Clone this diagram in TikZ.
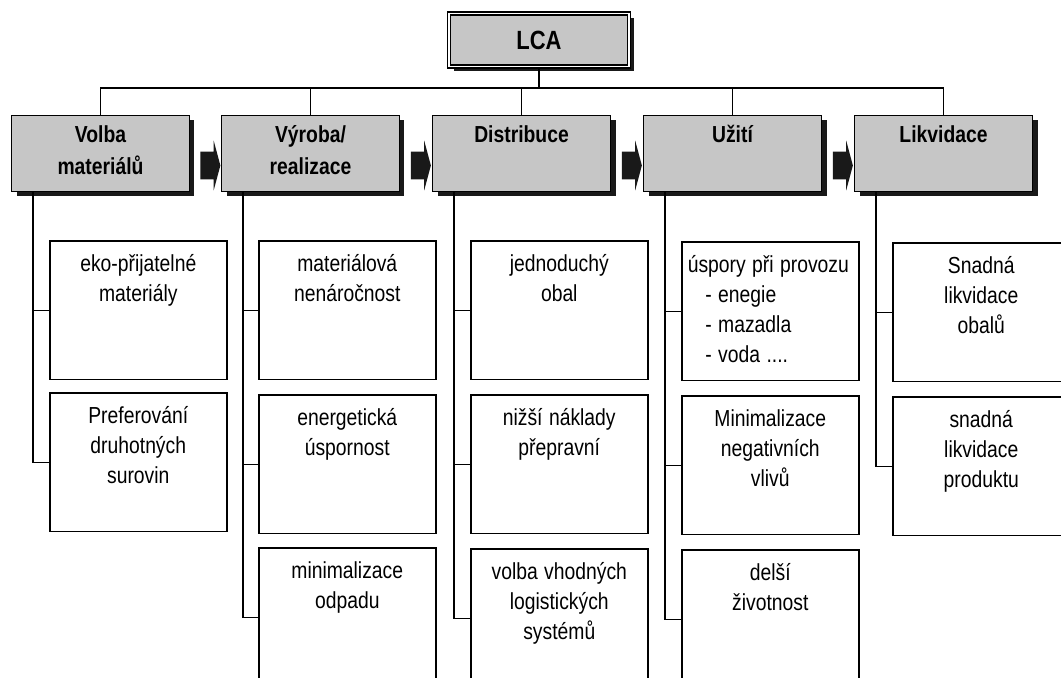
\documentclass[tikz,border=0pt]{standalone}
\usepackage{fontspec}
\setmainfont{Liberation Sans}
\usetikzlibrary{calc,shadows,shapes.arrows}
\definecolor{stagegray}{RGB}{198,198,198}
\definecolor{shadowgray}{RGB}{25,25,25}
\tikzset{%
  tall/.style={yscale=1.2, transform shape},% scanned text is taller than wide
  boxshadow/.style={drop shadow={shadow xshift=0.1cm, shadow yshift=-0.085cm,
    opacity=1, fill=shadowgray}},
  lcabox/.style={tall, draw, fill=stagegray, line width=1pt, double=white,
    double distance=0.7pt, minimum width=3.6cm, minimum height=0.88cm,
    font=\bfseries\fontsize{12.5}{15}\selectfont, boxshadow},
  stage/.style={tall, draw, fill=stagegray, line width=0.6pt, anchor=north west,
    text width=3.3cm, align=center, inner xsep=0.13cm, inner ysep=3pt,
    text height=9.8pt, text depth=20.1pt,
    font=\bfseries\fontsize{11}{15.1}\selectfont, boxshadow},% phase of life cycle
  item/.style={tall, draw, fill=white, line width=0.9pt, anchor=north west,
    text width=3.3cm, align=center, inner xsep=0.12cm, inner ysep=4pt,
    text height=10.6pt, text depth=47.1pt,
    font=\fontsize{11}{14.2}\selectfont},% measure inside one phase
  stagearrow/.style={shape=single arrow, fill=shadowgray, minimum height=0.4cm,
    inner xsep=0pt, inner ysep=0.27cm, single arrow head extend=0.22cm,
    single arrow tip angle=150},
  link/.style={line width=0.8pt}
}

\begin{document}
\begin{tikzpicture}[x=0.02cm, y=-0.02cm]
\useasboundingbox (0,0) rectangle (1061,677);

\node[lcabox] (lca) at (539,40) {LCA};

\node[stage] (volba) at (11,115) {Volba\\materiálů};
\node[stage] (vyroba) at (221,115) {Výroba/\\realizace};
\node[stage] (distr) at (432,115) {Distribuce};
\node[stage] (uziti) at (643,115) {Užití};
\node[stage] (likv) at (854,115) {Likvidace};

\node[stagearrow] (a1) at ($(volba.east)!0.5!(vyroba.west)+(3,12)$) {};
\node[stagearrow] (a2) at ($(vyroba.east)!0.5!(distr.west)+(3,12)$) {};
\node[stagearrow] (a3) at ($(distr.east)!0.5!(uziti.west)+(3,12)$) {};
\node[stagearrow] (a4) at ($(uziti.east)!0.5!(likv.west)+(3,12)$) {};

\coordinate (bus) at (540,88);
\draw[link] (lca.south) -- (lca.south |- bus);
\draw[link] (volba.north) |- (bus) -| (likv.north);
\draw[link] (vyroba.north) -- (vyroba.north |- bus);
\draw[link] (distr.north) -- (distr.north |- bus);
\draw[link] (uziti.north) -- (uziti.north |- bus);

\node[item] (vol1) at (49,240) {eko-přijatelné\\materiály};
\node[item] (vol2) at (49,392) {Preferování\\druhotných\\surovin};

\node[item] (vyr1) at (258,240) {materiálová\\nenáročnost};
\node[item] (vyr2) at (258,394) {energetická\\úspornost};
\node[item] (vyr3) at (258,547) {minimalizace\\odpadu};

\node[item] (dis1) at (470,240) {jednoduchý\\obal};
\node[item] (dis2) at (470,394) {nižší náklady\\přepravní};
\node[item] (dis3) at (470,548) {volba vhodných\\logistických\\systémů};

\node[item, align=left] (uzi1) at (681,241) {úspory při provozu\\\hspace*{10pt}- enegie\\\hspace*{10pt}- mazadla\\\hspace*{10pt}- voda ....};
\node[item] (uzi2) at (681,395) {Minimalizace\\negativních\\vlivů};
\node[item] (uzi3) at (681,549) {delší\\životnost};

\node[item] (lik1) at (892,242) {Snadná\\likvidace\\obalů};
\node[item] (lik2) at (892,396) {snadná\\likvidace\\produktu};

\coordinate (t1) at ($(volba.south west)+(22,0)$);
\coordinate (t2) at ($(vyroba.south west)+(22,0)$);
\coordinate (t3) at ($(distr.south west)+(22,0)$);
\coordinate (t4) at ($(uziti.south west)+(22,0)$);
\coordinate (t5) at ($(likv.south west)+(22,0)$);
\draw[link] (t1) |- (vol1.west) (t1) |- (vol2.west);
\draw[link] (t2) |- (vyr1.west) (t2) |- (vyr2.west) (t2) |- (vyr3.west);
\draw[link] (t3) |- (dis1.west) (t3) |- (dis2.west) (t3) |- (dis3.west);
\draw[link] (t4) |- (uzi1.west) (t4) |- (uzi2.west) (t4) |- (uzi3.west);
\draw[link] (t5) |- (lik1.west) (t5) |- (lik2.west);
\end{tikzpicture}
\end{document}
